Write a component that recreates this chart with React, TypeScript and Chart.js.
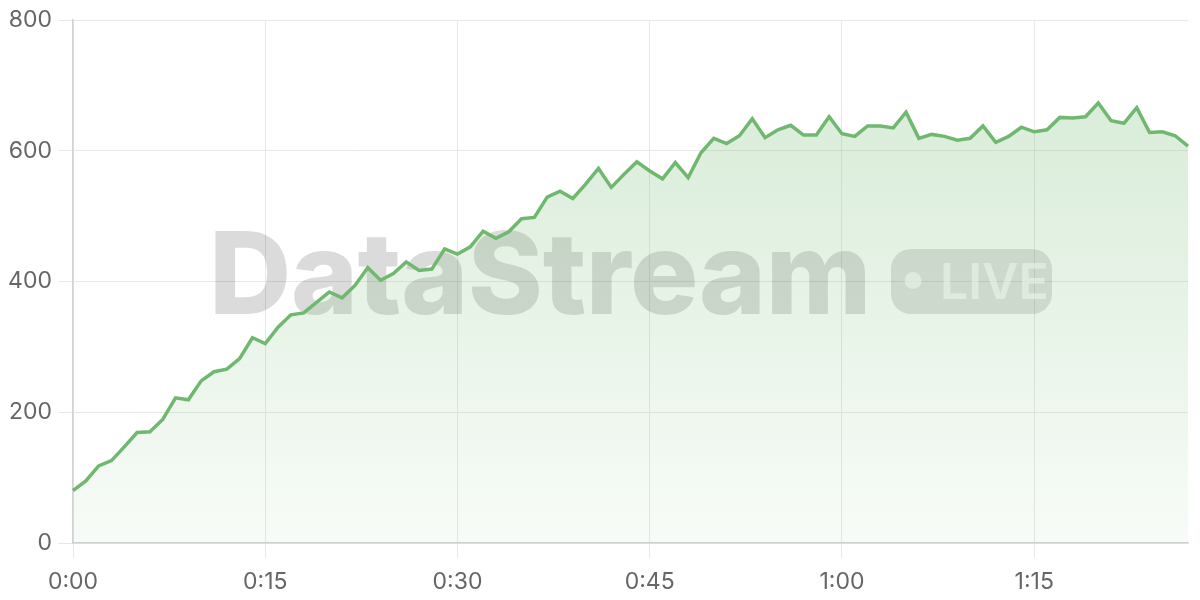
import { useEffect, useRef } from "react";
import { Chart, registerables } from "chart.js";

Chart.register(...registerables);

// one reading per minute, 0:00 .. 1:27
const minutes = Array.from({ length: 88 }, (_, i) => `${Math.floor(i / 60)}:${String(i % 60).padStart(2, "0")}`);

const viewers = [
  80, 95, 118, 126, 147, 169, 170, 189, 222, 219,
  248, 262, 266, 282, 314, 305, 330, 349, 352, 368,
  384, 375, 394, 421, 402, 412, 430, 417, 419, 450,
  442, 453, 477, 466, 476, 496, 498, 529, 538, 527,
  549, 573, 544, 564, 583, 569, 557, 582, 559, 597,
  619, 611, 623, 649, 620, 632, 639, 624, 624, 652,
  626, 622, 638, 638, 635, 659, 619, 625, 622, 616,
  619, 638, 613, 622, 636, 629, 632, 651, 650, 652,
  673, 646, 642, 666, 628, 629, 623, 607
];

const yTicks = [0, 200, 400, 600, 800];

const WATERMARK = "DataStream";
const BADGE = "LIVE";

const GREEN = "rgb(112,184,112)";
const GRID = "#e8e8e8";
const AXIS = "#d2d2d2";

const watermarkPlugin = {
  id: "watermark",
  beforeDatasetsDraw(chart: Chart) {
    const { ctx, chartArea } = chart;
    const cx = (chartArea.left + chartArea.right) / 2;
    const cy = (chartArea.top + chartArea.bottom) / 2;
    ctx.save();

    // main word
    ctx.font = "800 114px Inter";
    ctx.textBaseline = "alphabetic";
    ctx.textAlign = "left";
    const raw = ctx.measureText(WATERMARK).width;
    const wordW = 662;
    ctx.letterSpacing = `${(wordW - raw) / WATERMARK.length}px`;
    const badgeW = 161;
    const badgeH = 65;
    const gap = 20;
    const startX = cx - (wordW + gap + badgeW) / 2;
    ctx.fillStyle = "rgba(0,0,0,0.14)";
    ctx.fillText(WATERMARK, startX, cy + 32);

    // badge
    const bx = startX + wordW + gap;
    const by = cy - badgeH / 2;
    ctx.beginPath();
    ctx.roundRect(bx, by, badgeW, badgeH, 20);
    ctx.fillStyle = "rgba(0,0,0,0.12)";
    ctx.fill();

    ctx.fillStyle = "rgba(255,255,255,0.65)";
    ctx.beginPath();
    ctx.arc(bx + 22, cy - 1, 8.5, 0, Math.PI * 2);
    ctx.fill();

    ctx.letterSpacing = "0px";
    ctx.font = "600 50px Inter";
    ctx.fillText(BADGE, bx + 49, cy + 17);

    ctx.restore();
  }
};

export default function App() {
  const canvasRef = useRef<HTMLCanvasElement | null>(null);

  useEffect(() => {
    if (!canvasRef.current) return;

    const chart = new Chart(canvasRef.current, {
      type: "line",
      data: {
        labels: minutes,
        datasets: [
          {
            data: viewers,
            borderColor: GREEN,
            borderWidth: 3.5,
            pointRadius: 0,
            tension: 0,
            fill: "origin",
            backgroundColor: (ctx) => {
              const area = ctx.chart.chartArea;
              if (!area) return "rgba(112,184,112,0.2)";
              const g = ctx.chart.ctx.createLinearGradient(0, area.top, 0, area.bottom);
              g.addColorStop(0, "rgba(112,184,112,0.30)");
              g.addColorStop(1, "rgba(112,184,112,0.05)");
              return g;
            }
          }
        ]
      },
      options: {
        animation: false,
        responsive: true,
        maintainAspectRatio: false,
        layout: { padding: { top: 20, right: 12, left: 0, bottom: 0 } },
        plugins: {
          legend: { display: false },
          tooltip: { enabled: false }
        },
        scales: {
          x: {
            type: "category",
            afterFit: (scale) => {
              scale.height = 57;
            },
            grid: {
              color: (c) => (c.index % 15 === 0 ? GRID : "transparent"),
              tickLength: 15
            },
            border: { color: AXIS, width: 1.5 },
            ticks: {
              autoSkip: false,
              maxRotation: 0,
              padding: 10,
              color: "#666",
              font: { family: "Inter", size: 23 },
              callback: (_v, i) => (i % 15 === 0 ? minutes[i] : "")
            }
          },
          y: {
            min: yTicks[0],
            max: yTicks[yTicks.length - 1],
            afterFit: (scale) => {
              scale.width = 73;
            },
            afterBuildTicks: (scale) => {
              scale.ticks = yTicks.map((v) => ({ value: v }));
            },
            grid: { color: GRID, tickLength: 15 },
            border: { color: AXIS, width: 1.5 },
            ticks: {
              padding: 6,
              color: "#666",
              font: { family: "Inter", size: 23 }
            }
          }
        }
      },
      plugins: [watermarkPlugin]
    });

    return () => chart.destroy();
  }, []);

  return (
    <div style={{ position: "fixed", left: 0, top: 0, width: 1200, height: 600, background: "#fff" }}>
      <canvas ref={canvasRef} />
    </div>
  );
}
